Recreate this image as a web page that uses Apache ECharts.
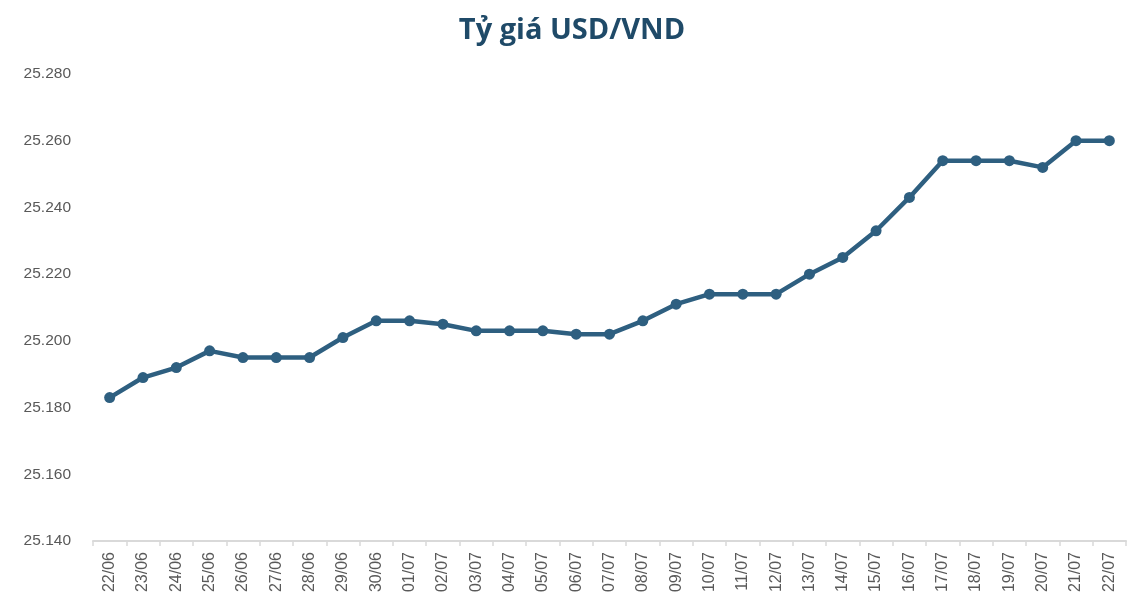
<!DOCTYPE html>
<html>
<head>
    <meta charset="UTF-8">
    <title>Tỷ giá USD/VND</title>
    <script src="https://cdn.jsdelivr.net/npm/echarts@6/dist/echarts.min.js"></script>
    <style type="text/css">
        html, body, #main {
            height: 100%;
            width: 100%;
            margin: 0;
            padding: 0;
            background: #fff;
        }
    </style>
</head>
<body>
<div id="main"></div>
<script type="text/javascript">
    // ngày giao dịch
    var dates = ['22/06', '23/06', '24/06', '25/06', '26/06', '27/06', '28/06', '29/06', '30/06',
        '01/07', '02/07', '03/07', '04/07', '05/07', '06/07', '07/07', '08/07', '09/07', '10/07',
        '11/07', '12/07', '13/07', '14/07', '15/07', '16/07', '17/07', '18/07', '19/07', '20/07',
        '21/07', '22/07'];
    // tỷ giá trung tâm (VND)
    var rates = [25183, 25189, 25192, 25197, 25195, 25195, 25195, 25201, 25206,
        25206, 25205, 25203, 25203, 25203, 25202, 25202, 25206, 25211, 25214,
        25214, 25214, 25220, 25225, 25233, 25243, 25254, 25254, 25254, 25252,
        25260, 25260];
    var yMin = 25140, yMax = 25280, yStep = 20;

    function fmt(v) {
        // 25280 -> 25.280
        var s = String(Math.round(v));
        return s.replace(/\B(?=(\d{3})+(?!\d))/g, '.');
    }

    var mycharts = echarts.init(document.getElementById('main'));
    var option = {
        animation: false,
        title: {
            text: 'Tỷ giá USD/VND',
            left: 'center',
            top: 11,
            textStyle: {
                fontFamily: 'Open Sans',
                fontWeight: 'bold',
                fontSize: 29,
                color: '#1F4A68'
            }
        },
        grid: {
            left: 93,
            right: 18,
            top: 74,
            bottom: 75
        },
        xAxis: {
            type: 'category',
            data: dates,
            boundaryGap: true,
            axisLine: {lineStyle: {color: '#D9D9D9', width: 2}},
            axisTick: {show: true, length: 5, lineStyle: {color: '#D9D9D9', width: 1.5}},
            axisLabel: {
                rotate: 90,
                interval: 0,
                margin: 11,
                fontFamily: 'Liberation Sans',
                fontSize: 16,
                color: '#595959'
            }
        },
        yAxis: {
            type: 'value',
            min: yMin,
            max: yMax,
            interval: yStep,
            axisLine: {show: false},
            axisTick: {show: false},
            splitLine: {show: false},
            axisLabel: {
                margin: 22,
                fontFamily: 'Liberation Sans',
                fontSize: 15.5,
                color: '#595959',
                formatter: fmt
            }
        },
        series: [{
            name: 'USD/VND',
            type: 'line',
            data: rates,
            symbol: 'circle',
            symbolSize: 11,
            lineStyle: {color: '#2E5F80', width: 4.5},
            itemStyle: {color: '#2E5F80'}
        }]
    };
    mycharts.setOption(option);
</script>
</body>
</html>
